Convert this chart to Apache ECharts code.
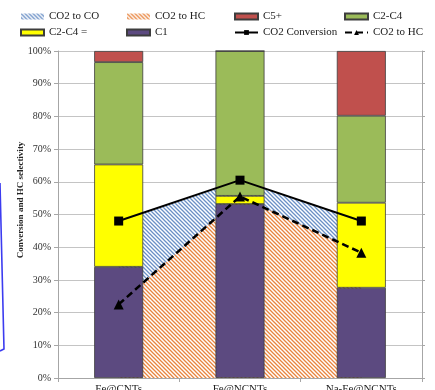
<!DOCTYPE html>
<html>
<head>
<meta charset="utf-8">
<script src="https://cdn.jsdelivr.net/npm/echarts@6/dist/echarts.min.js"></script>
<style>
  html, body { margin: 0; padding: 0; background: #ffffff; }
  #chart { width: 435px; height: 390px; }
</style>
</head>
<body>
<div id="chart"></div>
<script>
// Catalysts on the x axis
const categories = ['Fe@CNTs', 'Fe@NCNTs', 'Na-Fe@NCNTs'];

// Hydrocarbon selectivity (stacked bars, %)
const c1 = [34, 53.2, 27.6];
const c2c4Olefin = [31.3, 2.5, 26];
const c2c4 = [31.3, 44.3, 26.6];
const c5plus = [3.4, 0, 19.8];

// CO2 conversion and CO2 converted to hydrocarbons (%)
const co2Conversion = [48, 60.5, 48];
const co2ToHC = [22.5, 55.5, 38.3];

// Axis ticks
const yTicks = [0, 10, 20, 30, 40, 50, 60, 70, 80, 90, 100];

const serif = 'Liberation Serif, Times New Roman, serif';

// Diagonal hatch tile ("\\\\" direction) on a white ground
function hatch(color) {
  const s = 4;
  const c = document.createElement('canvas');
  c.width = s; c.height = s;
  const g = c.getContext('2d');
  g.fillStyle = '#ffffff';
  g.fillRect(0, 0, s, s);
  g.strokeStyle = color;
  g.lineWidth = 1.3;
  g.beginPath();
  g.moveTo(-1, -1); g.lineTo(s + 1, s + 1);
  g.moveTo(-1, s - 1); g.lineTo(1, s + 1);
  g.moveTo(s - 1, -1); g.lineTo(s + 1, 1);
  g.stroke();
  return { image: c, repeat: 'repeat' };
}
const blueHatch = hatch('#6a90c6');
const orangeHatch = hatch('#e8843e');

const chart = echarts.init(document.getElementById('chart'), null, { renderer: 'canvas' });

const legendText = { fontFamily: serif, fontSize: 11, color: '#222' };
function legendCol(left, items) {
  return {
    orient: 'vertical', left: left, top: 11, itemGap: 5, padding: 0,
    itemWidth: 23, itemHeight: 6,
    textStyle: legendText,
    formatter: n => n.replace(' area', ''),
    data: items
  };
}

const barBorder = { borderColor: '#3d3d3d', borderWidth: 0.8 };

chart.setOption({
  animation: false,
  backgroundColor: '#ffffff',
  grid: { left: 58, right: 13, top: 51, bottom: 12, containLabel: false, outerBoundsMode: 'none' },
  legend: [
    legendCol(20, [
      { name: 'CO2 to CO', icon: 'rect', itemStyle: { color: blueHatch, borderWidth: 0 } },
      { name: 'C2-C4 =', icon: 'rect' }
    ]),
    legendCol(126, [
      { name: 'CO2 to HC area', icon: 'rect', itemStyle: { color: orangeHatch, borderWidth: 0 } },
      { name: 'C1', icon: 'rect' }
    ]),
    legendCol(234, [
      { name: 'C5+', icon: 'rect' },
      { name: 'CO2 Conversion' }
    ]),
    legendCol(344, [
      { name: 'C2-C4', icon: 'rect' },
      { name: 'CO2 to HC' }
    ])
  ],
  xAxis: {
    type: 'category',
    data: categories,
    boundaryGap: true,
    axisLine: { lineStyle: { color: '#a6a6a6', width: 1 } },
    axisTick: { show: true, length: 4, lineStyle: { color: '#a6a6a6' } },
    axisLabel: { margin: 6, fontFamily: serif, fontSize: 11, color: '#222' }
  },
  yAxis: [
    {
      type: 'value', min: 0, max: 100, interval: 10,
      axisLine: { show: true, lineStyle: { color: '#a6a6a6' } },
      axisTick: { show: true, length: 4, lineStyle: { color: '#a6a6a6' } },
      splitLine: { lineStyle: { color: '#c4c4c4', width: 1 } },
      axisLabel: {
        margin: 7, fontFamily: serif, fontSize: 10, color: '#333',
        formatter: v => (yTicks.indexOf(v) >= 0 ? v + '%' : '')
      }
    },
    {
      type: 'value', min: 0, max: 100, interval: 10, position: 'right',
      axisLine: { show: true, lineStyle: { color: '#a6a6a6' } },
      axisTick: { show: true, length: 3, lineStyle: { color: '#a6a6a6' } },
      axisLabel: { show: false },
      splitLine: { show: false }
    }
  ],
  series: [
    // Hatched areas: conversion split into CO (blue) and HC (orange)
    {
      name: 'CO2 to CO', type: 'line', data: co2Conversion, z: 1,
      symbol: 'none', lineStyle: { width: 0, opacity: 0 },
      itemStyle: { color: '#6a90c6' },
      areaStyle: { color: blueHatch, opacity: 1 }
    },
    {
      name: 'CO2 to HC area', type: 'line', data: co2ToHC, z: 1,
      symbol: 'none', lineStyle: { width: 0, opacity: 0 },
      itemStyle: { color: '#e8843e' },
      areaStyle: { color: orangeHatch, opacity: 1 }
    },
    // Stacked selectivity bars
    { name: 'C1', type: 'bar', stack: 'sel', barWidth: 49, data: c1, z: 2,
      itemStyle: Object.assign({ color: '#5c4a80' }, barBorder) },
    { name: 'C2-C4 =', type: 'bar', stack: 'sel', barWidth: 49, data: c2c4Olefin, z: 2,
      itemStyle: Object.assign({ color: '#ffff00' }, barBorder) },
    { name: 'C2-C4', type: 'bar', stack: 'sel', barWidth: 49, data: c2c4, z: 2,
      itemStyle: Object.assign({ color: '#9bbb59' }, barBorder) },
    { name: 'C5+', type: 'bar', stack: 'sel', barWidth: 49, data: c5plus, z: 2,
      itemStyle: Object.assign({ color: '#c0504d' }, barBorder) },
    // Conversion lines
    {
      name: 'CO2 Conversion', type: 'line', data: co2Conversion, z: 3,
      symbol: 'rect', symbolSize: 9,
      lineStyle: { color: '#000', width: 2 },
      itemStyle: { color: '#000' }
    },
    {
      name: 'CO2 to HC', type: 'line', data: co2ToHC, z: 3,
      symbol: 'triangle', symbolSize: 10,
      lineStyle: { color: '#000', width: 2.5, type: [7, 4] },
      itemStyle: { color: '#000' }
    }
  ],
  graphic: [
    {
      type: 'text', silent: true, x: 21, y: 200, rotation: Math.PI / 2,
      style: {
        text: 'Conversion and HC selectivity',
        fontFamily: serif, fontSize: 9, fontWeight: 'bold', fill: '#222',
        align: 'center', verticalAlign: 'middle'
      }
    },
    {
      type: 'polyline', silent: true,
      shape: { points: [[0, 183], [4, 349], [0, 351]] },
      style: { stroke: '#3c3cf0', lineWidth: 1.6, fill: null }
    }
  ]
});
</script>
</body>
</html>
